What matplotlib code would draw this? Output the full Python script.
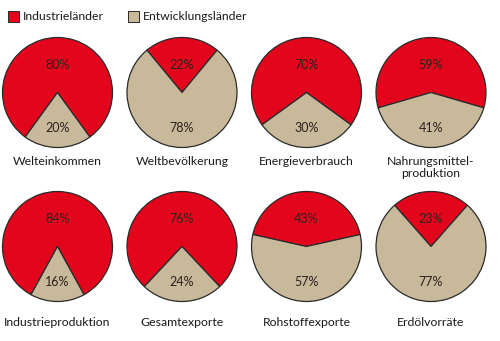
import matplotlib.pyplot as plt

plt.rcParams['font.family'] = ['Lato', 'DejaVu Sans']

names = ['Welteinkommen', 'Weltbevölkerung', 'Energieverbrauch', 'Nahrungsmittel-\nproduktion',
         'Industrieproduktion', 'Gesamtexporte', 'Rohstoffexporte', 'Erdölvorräte']
industrie = [80, 22, 70, 59, 84, 76, 43, 23]
entwicklung = [20, 78, 30, 41, 16, 24, 57, 77]
legend_labels = ['Industrieländer', 'Entwicklungsländer']

red = '#e3051b'
beige = '#c9b99b'
edge = '#2a2a2a'

W, H = 500, 341
fig = plt.figure(figsize=(W / 100, H / 100), dpi=100)

r = 55
xs = [57.5, 182, 306.5, 431]
ys = [92.5, 246.5]
label_top = [156, 317]

for i, name in enumerate(names):
    cx = xs[i % 4]
    cy = ys[i // 4]
    ax = fig.add_axes([(cx - r - 2) / W, 1 - (cy + r + 2) / H, (2 * r + 4) / W, (2 * r + 4) / H])
    vals = [industrie[i], entwicklung[i]]
    start = 90 - industrie[i] * 3.6 / 2
    wedges, texts, autotexts = ax.pie(vals, colors=[red, beige], startangle=start, counterclock=True,
                                      radius=1, autopct=lambda p: f'{round(p)}%',
                                      wedgeprops=dict(edgecolor=edge, linewidth=0.9),
                                      textprops=dict(fontsize=9, color='#2a2020'))
    autotexts[0].set_position((0, 0.5))
    autotexts[1].set_position((0, -0.65))
    lim = (r + 2) / r
    ax.set_xlim(-lim, lim)
    ax.set_ylim(-lim, lim)
    ax.set_aspect('equal')
    ax.axis('off')
    fig.text(cx / W, 1 - label_top[i // 4] / H, name, ha='center', va='top', fontsize=8.8,
             color='#1a1a1a', linespacing=1.15)

# legend
for (x0, col, lab) in [(8, red, legend_labels[0]), (128, beige, legend_labels[1])]:
    fig.patches.append(plt.Rectangle((x0 / W, 1 - 22 / H), 11 / W, 11 / H, transform=fig.transFigure,
                                     facecolor=col, edgecolor=edge, linewidth=0.7))
    fig.text((x0 + 15) / W, 1 - 16.5 / H, lab, ha='left', va='center', fontsize=8.8, color='#1a1a1a')

fig.savefig('out.png', dpi=100)
